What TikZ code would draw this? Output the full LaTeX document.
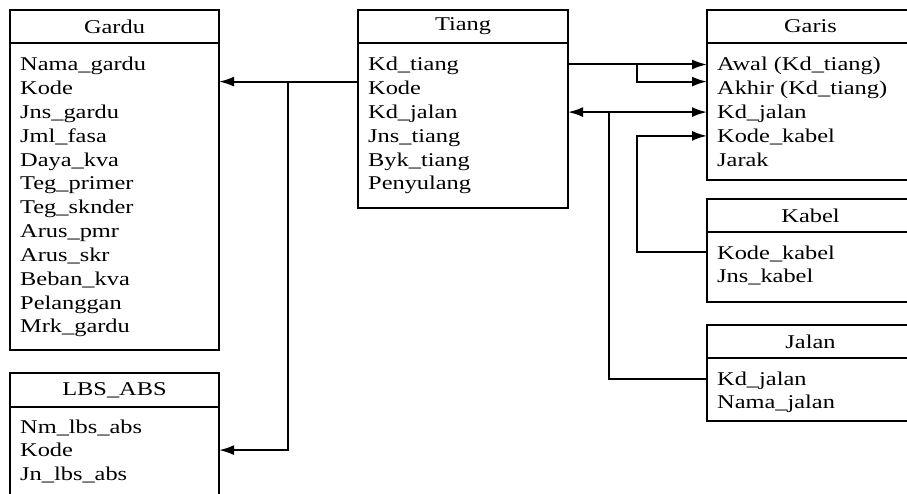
\documentclass[tikz,border=0pt]{standalone}
\usepackage{fontspec}
\setmainfont{Liberation Serif}[FakeStretch=1.25]
\usetikzlibrary{arrows.meta}
\tikzset{
  entityhead/.style={draw, line width=2pt, minimum height=33pt, inner sep=0pt, outer sep=0pt},
  entitybody/.style={draw, line width=2pt, anchor=north, inner sep=0pt, outer sep=0pt},
  field/.style={anchor=base west, inner sep=0pt, text height=13pt, text depth=0pt},
  link/.style={line width=2pt},
  relarrow/.style={link, -{Latex[length=15pt,width=10pt]}},
  duoarrow/.style={link, {Latex[length=15pt,width=10pt]}-{Latex[length=15pt,width=10pt]}},
}
\begin{document}
\begin{tikzpicture}[x=1pt, y=-1pt, every node/.style={font=\fontsize{19.5}{23.8}\selectfont}]
    \useasboundingbox (0,0) rectangle (907,494);
    \clip (0,0) rectangle (907,494);

    % Gardu table
    \node[entityhead, minimum width=209pt] (gardu-h) at (114.5,26.5) {Gardu};
    \node[entitybody, minimum width=209pt, minimum height=307pt] (gardu) at (gardu-h.south) {};
    \foreach \f [count=\i] in {Nama\_gardu, Kode, Jns\_gardu, Jml\_fasa, Daya\_kva, Teg\_primer,
        Teg\_sknder, Arus\_pmr, Arus\_skr, Beban\_kva, Pelanggan, Mrk\_gardu}
        \node[field] (gardu-\i) at (20,{71+(\i-1)*23.8}) {\f};

    % LBS_ABS table (runs off the bottom edge)
    \node[entityhead, minimum width=209pt, minimum height=34pt] (lbs-h) at (114.5,390) {LBS\_ABS};
    \node[entitybody, minimum width=209pt, minimum height=113pt] (lbs) at (lbs-h.south) {};
    \foreach \f [count=\i] in {Nm\_lbs\_abs, Kode, Jn\_lbs\_abs}
        \node[field] (lbs-\i) at (20,{433+(\i-1)*23.6}) {\f};

    % Tiang table
    \node[entityhead, minimum width=210pt] (tiang-h) at (463,26.5) {Tiang};
    \node[entitybody, minimum width=210pt, minimum height=165pt] (tiang) at (tiang-h.south) {};
    \foreach \f [count=\i] in {Kd\_tiang, Kode, Kd\_jalan, Jns\_tiang, Byk\_tiang, Penyulang}
        \node[field] (tiang-\i) at (368,{71+(\i-1)*23.8}) {\f};

    % Garis table (runs off the right edge)
    \node[entityhead, minimum width=207pt] (garis-h) at (810.5,26.5) {Garis};
    \node[entitybody, minimum width=207pt, minimum height=137pt] (garis) at (garis-h.south) {};
    \foreach \f [count=\i] in {Awal (Kd\_tiang), Akhir (Kd\_tiang), Kd\_jalan, Kode\_kabel, Jarak}
        \node[field] (garis-\i) at (717,{71+(\i-1)*23.8}) {\f};

    % Kabel table
    \node[entityhead, minimum width=207pt] (kabel-h) at (810.5,215.5) {Kabel};
    \node[entitybody, minimum width=207pt, minimum height=70pt] (kabel) at (kabel-h.south) {};
    \foreach \f [count=\i] in {Kode\_kabel, Jns\_kabel}
        \node[field] (kabel-\i) at (717,{259+(\i-1)*24}) {\f};

    % Jalan table
    \node[entityhead, minimum width=207pt] (jalan-h) at (810.5,341.5) {Jalan};
    \node[entitybody, minimum width=207pt, minimum height=63pt] (jalan) at (jalan-h.south) {};
    \foreach \f [count=\i] in {Kd\_jalan, Nama\_jalan}
        \node[field] (jalan-\i) at (717,{385+(\i-1)*23.6}) {\f};

    % Vertical runs of the connectors
    \coordinate (busG) at (288,0);
    \coordinate (busJ) at (608.5,0);
    \coordinate (busA) at (636.5,0);

    % Tiang -> Gardu and LBS_ABS
    \draw[relarrow] (tiang.west |- tiang-2.north) -- (gardu.east |- tiang-2.north);
    \draw[relarrow] (busG |- tiang-2.north) |- (lbs.east |- lbs-2.west);
    % Tiang -> Garis (awal, akhir)
    \draw[relarrow] (tiang.east |- tiang-1.west) -- (garis.west |- tiang-1.west);
    \draw[relarrow] (busA |- tiang-1.west) |- (garis.west |- garis-2.north);
    % Kd_jalan between Tiang, Garis and Jalan
    \draw[duoarrow] (tiang.east |- tiang-3.west) -- (garis.west |- tiang-3.west);
    \draw[link] (busJ |- tiang-3.west) |- (jalan.west |- jalan-1.west);
    % Kabel -> Garis
    \draw[relarrow] (kabel.west |- kabel-1.west) -| (busA |- garis-4.west) -- (garis.west |- garis-4.west);
\end{tikzpicture}
\end{document}
